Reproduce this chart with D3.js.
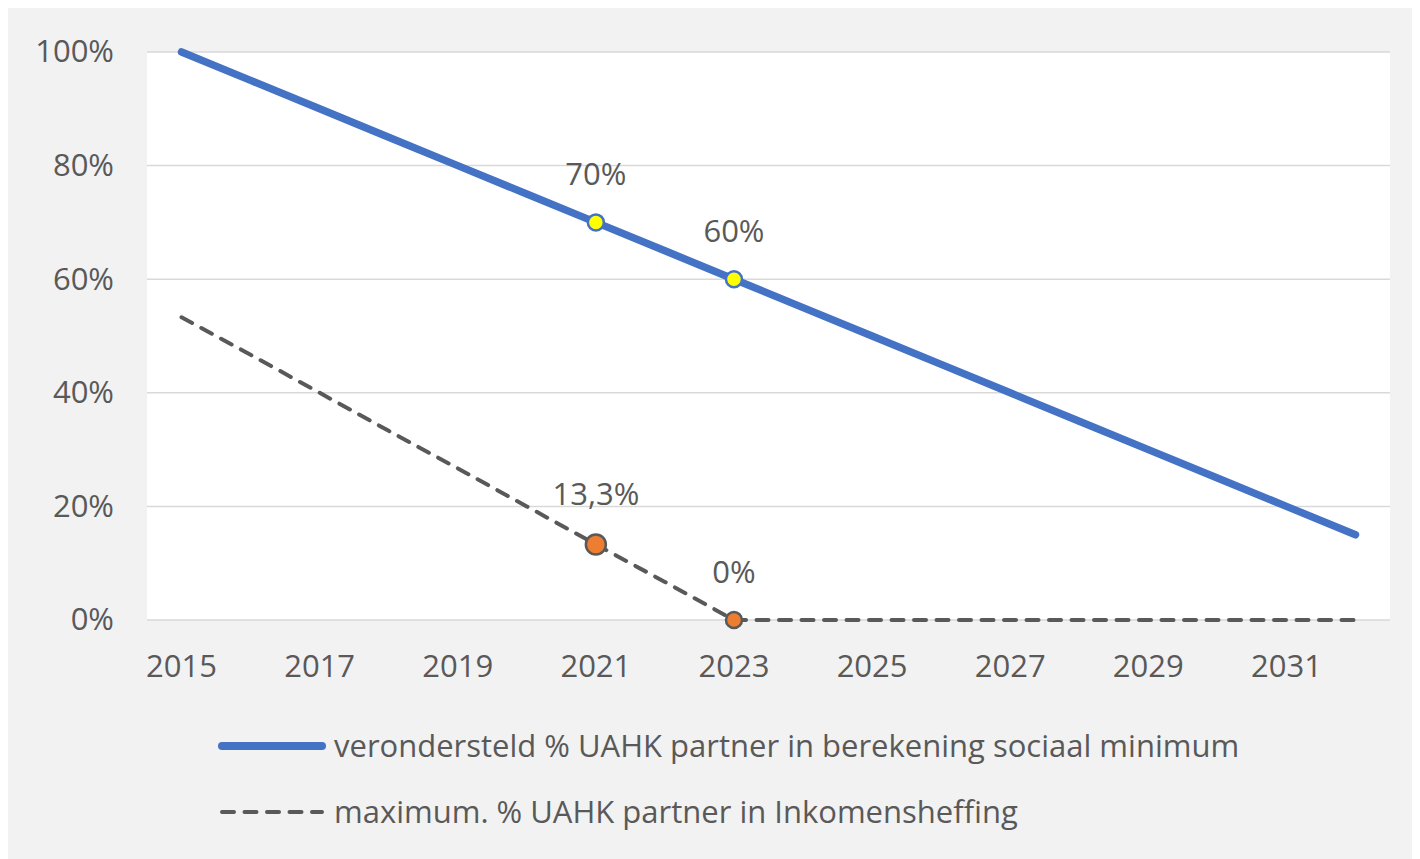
<!DOCTYPE html>
<html>
<head>
<meta charset="utf-8">
<script src="https://cdn.jsdelivr.net/npm/d3@7"></script>
<style>
  body { margin: 0; background: #fff; }
  svg { display: block; }
  text { font-family: "Open Sans", "Noto Sans", sans-serif; fill: #595959; }
</style>
</head>
<body>
<svg id="chart" width="1420" height="859"></svg>
<script>
const years = [2015, 2016, 2017, 2018, 2019, 2020, 2021, 2022, 2023, 2024, 2025, 2026, 2027, 2028, 2029, 2030, 2031, 2032];
const tickYears = [2015, 2017, 2019, 2021, 2023, 2025, 2027, 2029, 2031];
const yTicks = [0, 20, 40, 60, 80, 100];
// verondersteld % UAHK partner in berekening sociaal minimum
const assumedPct = [100, 95, 90, 85, 80, 75, 70, 65, 60, 55, 50, 45, 40, 35, 30, 25, 20, 15];
// maximum. % UAHK partner in Inkomensheffing
const maxPct = [53.3, 46.7, 40, 33.3, 26.7, 20, 13.3, 6.7, 0, 0, 0, 0, 0, 0, 0, 0, 0, 0];
const seriesNames = [
  "verondersteld % UAHK partner in berekening sociaal minimum",
  "maximum. % UAHK partner in Inkomensheffing"
];
const assumedMarks = [{ year: 2021, label: "70%" }, { year: 2023, label: "60%" }];
const maxMarks = [{ year: 2021, label: "13,3%", r: 10 }, { year: 2023, label: "0%", r: 8 }];

const fontSize = "31px";
const dash = "12,10.5";

const svg = d3.select("#chart");

// outer chart area
svg.append("rect")
    .attr("x", 8).attr("y", 8)
    .attr("width", 1404).attr("height", 851)
    .attr("fill", "#f2f2f2");

const plot = { left: 147, top: 52, right: 1390, bottom: 620 };

svg.append("rect")
    .attr("x", plot.left).attr("y", plot.top)
    .attr("width", plot.right - plot.left)
    .attr("height", plot.bottom - plot.top)
    .attr("fill", "#fff");

const x = d3.scaleBand()
    .domain(years)
    .range([plot.left, plot.right]);
const xc = d => x(d) + x.bandwidth() / 2;

const y = d3.scaleLinear()
    .domain([0, 100])
    .range([plot.bottom, plot.top]);

// gridlines
svg.append("g")
    .selectAll("line")
    .data(yTicks)
    .enter()
    .append("line")
    .attr("x1", plot.left)
    .attr("x2", plot.right)
    .attr("y1", d => y(d))
    .attr("y2", d => y(d))
    .attr("stroke", "#d9d9d9")
    .attr("stroke-width", 1.5);

// y axis labels
const yAxis = svg.append("g")
    .attr("transform", `translate(${plot.left - 33},0)`)
    .call(d3.axisLeft(y).tickValues(yTicks).tickSize(0).tickFormat(d => d + "%"));
yAxis.select(".domain").remove();
yAxis.selectAll("text")
    .attr("x", 0)
    .style("font-size", fontSize)
    .style("font-family", "'Open Sans', sans-serif")
    .attr("fill", "#595959");

// x axis labels
const xAxis = svg.append("g")
    .attr("transform", `translate(0,${plot.bottom + 35})`)
    .call(d3.axisBottom(x).tickValues(tickYears).tickSize(0));
xAxis.select(".domain").remove();
xAxis.selectAll("text")
    .attr("y", 0)
    .attr("dy", "0.71em")
    .style("font-size", fontSize)
    .style("font-family", "'Open Sans', sans-serif")
    .attr("fill", "#595959");

const line = d3.line()
    .x((d, i) => xc(years[i]))
    .y(d => y(d));

svg.append("path")
    .datum(maxPct)
    .attr("d", line)
    .attr("fill", "none")
    .attr("stroke", "#595959")
    .attr("stroke-width", 4)
    .attr("stroke-dasharray", dash)
    .attr("stroke-linecap", "round");

svg.append("path")
    .datum(assumedPct)
    .attr("d", line)
    .attr("fill", "none")
    .attr("stroke", "#4472c4")
    .attr("stroke-width", 7.5)
    .attr("stroke-linecap", "round");

// markers
svg.append("g")
    .selectAll("circle")
    .data(assumedMarks)
    .enter()
    .append("circle")
    .attr("cx", d => xc(d.year))
    .attr("cy", d => y(assumedPct[years.indexOf(d.year)]))
    .attr("r", 8)
    .attr("fill", "#ffff00")
    .attr("stroke", "#4472c4")
    .attr("stroke-width", 2.5);

svg.append("g")
    .selectAll("circle")
    .data(maxMarks)
    .enter()
    .append("circle")
    .attr("cx", d => xc(d.year))
    .attr("cy", d => y(maxPct[years.indexOf(d.year)]))
    .attr("r", d => d.r)
    .attr("fill", "#ed7d31")
    .attr("stroke", "#595959")
    .attr("stroke-width", 2.5);

// data labels
svg.append("g")
    .selectAll("text")
    .data(assumedMarks)
    .enter()
    .append("text")
    .attr("x", d => xc(d.year))
    .attr("y", d => y(assumedPct[years.indexOf(d.year)]) - 37)
    .attr("text-anchor", "middle")
    .style("font-size", fontSize)
    .text(d => d.label);

svg.append("g")
    .selectAll("text")
    .data(maxMarks)
    .enter()
    .append("text")
    .attr("x", d => xc(d.year))
    .attr("y", d => y(maxPct[years.indexOf(d.year)]) - 37 - (d.r - 8))
    .attr("text-anchor", "middle")
    .style("font-size", fontSize)
    .text(d => d.label);

// legend
const legend = svg.append("g");
const legendRows = [
  { name: seriesNames[0], y: 746, color: "#4472c4", width: 8, dash: null },
  { name: seriesNames[1], y: 812, color: "#595959", width: 4, dash: dash }
];
legendRows.forEach(r => {
  legend.append("line")
      .attr("x1", 222).attr("x2", 322)
      .attr("y1", r.y).attr("y2", r.y)
      .attr("stroke", r.color)
      .attr("stroke-width", r.width)
      .attr("stroke-dasharray", r.dash)
      .attr("stroke-linecap", "round");
  legend.append("text")
      .attr("x", 334)
      .attr("y", r.y)
      .attr("dy", "0.35em")
      .style("font-size", fontSize)
      .text(r.name);
});
</script>
</body>
</html>
